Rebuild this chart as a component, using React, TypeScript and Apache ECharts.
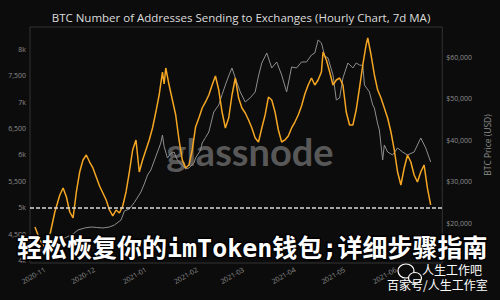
import { useEffect, useRef } from 'react';
import * as echarts from 'echarts';

const TITLE = 'BTC Number of Addresses Sending to Exchanges (Hourly Chart, 7d MA)';
const OVERLAY = '轻松恢复你的imToken钱包;详细步骤指南';
const WATERMARK = 'glassnode';
const SOURCE_1 = '人生工作吧';
const SOURCE_2 = '百家号/人生工作室';
const PRICE_AXIS_NAME = 'BTC Price (USD)';

const monthTicks = ['2020-11-01', '2020-12-01', '2021-01-01', '2021-02-01', '2021-03-01', '2021-04-01', '2021-05-01', '2021-06-01'];
const leftTicks = [4000, 4500, 5000, 5500, 6000, 6500, 7000, 7500, 8000];
const rightTicks = [20000, 30000, 40000, 50000, 60000];
const thresholdValue = 5000;

const addrDates = [
  '2020-10-26', '2020-10-29', '2020-11-01', '2020-11-04', '2020-11-07', '2020-11-10', '2020-11-12', '2020-11-14',
  '2020-11-16', '2020-11-18', '2020-11-20', '2020-11-22', '2020-11-24', '2020-11-26', '2020-11-28', '2020-11-30',
  '2020-12-02', '2020-12-04', '2020-12-06', '2020-12-08', '2020-12-10', '2020-12-12', '2020-12-14', '2020-12-16',
  '2020-12-18', '2020-12-20', '2020-12-22', '2020-12-24', '2020-12-26', '2020-12-28', '2020-12-30', '2021-01-01',
  '2021-01-03', '2021-01-05', '2021-01-07', '2021-01-09', '2021-01-11', '2021-01-12', '2021-01-13', '2021-01-15',
  '2021-01-17', '2021-01-19', '2021-01-21', '2021-01-23', '2021-01-25', '2021-01-27', '2021-01-29', '2021-01-31',
  '2021-02-02', '2021-02-04', '2021-02-06', '2021-02-08', '2021-02-10', '2021-02-12', '2021-02-14', '2021-02-16',
  '2021-02-18', '2021-02-20', '2021-02-22', '2021-02-24', '2021-02-26', '2021-02-28', '2021-03-02', '2021-03-04',
  '2021-03-06', '2021-03-08', '2021-03-10', '2021-03-12', '2021-03-14', '2021-03-16', '2021-03-18', '2021-03-20',
  '2021-03-22', '2021-03-24', '2021-03-26', '2021-03-28', '2021-03-30', '2021-04-01', '2021-04-03', '2021-04-05',
  '2021-04-07', '2021-04-09', '2021-04-11', '2021-04-13', '2021-04-15', '2021-04-17', '2021-04-18', '2021-04-20',
  '2021-04-22', '2021-04-24', '2021-04-26', '2021-04-28', '2021-04-30', '2021-05-02', '2021-05-04', '2021-05-06',
  '2021-05-08', '2021-05-10', '2021-05-12', '2021-05-14', '2021-05-15', '2021-05-17', '2021-05-19', '2021-05-21',
  '2021-05-23', '2021-05-25', '2021-05-27', '2021-05-29', '2021-05-31', '2021-06-02', '2021-06-04', '2021-06-06',
  '2021-06-08', '2021-06-10', '2021-06-12', '2021-06-14', '2021-06-16', '2021-06-18', '2021-06-20', '2021-06-22',
];
const addrValues = [
  4638, 4392, 4259, 4486, 4921, 5243, 5376, 5205,
  4921, 4808, 5300, 5678, 5905, 6000, 5867, 5754,
  5583, 5413, 5281, 5148, 4959, 4846, 4959, 4902,
  5035, 5300, 5678, 6095, 6284, 5678, 5905, 6095,
  6284, 6511, 6813, 7135, 7570, 7343, 7646, 7324,
  7040, 6757, 6284, 5905, 5754, 5811, 6095, 6530,
  6700, 6889, 7003, 7135, 7324, 7494, 7229, 6813,
  6511, 6700, 7135, 7457, 7078, 6889, 6795, 6662,
  6511, 6322, 6246, 6511, 6757, 7097, 7040, 6813,
  6473, 6246, 6284, 6359, 6511, 6624, 6757, 6927,
  7154, 7324, 7457, 7324, 7419, 7570, 7949, 7797,
  7570, 7324, 7419, 7457, 7324, 6813, 6567, 6567,
  6851, 7268, 7703, 8083, 8214, 7892, 7514, 7229,
  7078, 6889, 6700, 6435, 6095, 5678, 5432, 5754,
  6000, 5867, 5621, 5489, 5678, 5811, 5376, 5054,
];

const priceDates = [
  '2020-10-26', '2020-11-01', '2020-11-07', '2020-11-13', '2020-11-18', '2020-11-21', '2020-11-25', '2020-11-29',
  '2020-12-02', '2020-12-06', '2020-12-10', '2020-12-13', '2020-12-17', '2020-12-19', '2020-12-22', '2020-12-25',
  '2020-12-29', '2020-12-31', '2021-01-02', '2021-01-04', '2021-01-06', '2021-01-08', '2021-01-10', '2021-01-11',
  '2021-01-12', '2021-01-14', '2021-01-16', '2021-01-18', '2021-01-20', '2021-01-23', '2021-01-25', '2021-01-27',
  '2021-01-30', '2021-01-31', '2021-02-03', '2021-02-04', '2021-02-06', '2021-02-08', '2021-02-11', '2021-02-14',
  '2021-02-16', '2021-02-18', '2021-02-20', '2021-02-22', '2021-02-24', '2021-02-27', '2021-03-02', '2021-03-05',
  '2021-03-08', '2021-03-10', '2021-03-12', '2021-03-15', '2021-03-18', '2021-03-21', '2021-03-24', '2021-03-27',
  '2021-03-30', '2021-04-02', '2021-04-05', '2021-04-08', '2021-04-11', '2021-04-13', '2021-04-15', '2021-04-17',
  '2021-04-19', '2021-04-21', '2021-04-24', '2021-04-26', '2021-04-28', '2021-04-30', '2021-05-03', '2021-05-06',
  '2021-05-08', '2021-05-10', '2021-05-12', '2021-05-13', '2021-05-16', '2021-05-18', '2021-05-19', '2021-05-21',
  '2021-05-22', '2021-05-24', '2021-05-25', '2021-05-27', '2021-05-30', '2021-06-02', '2021-06-05', '2021-06-08',
  '2021-06-12', '2021-06-16', '2021-06-19', '2021-06-22',
];
const priceValues = [
  13080, 13800, 15500, 16460, 17420, 18390, 18870, 19110,
  19000, 18870, 19110, 19590, 20800, 22960, 23450, 25010,
  27540, 29470, 31640, 32850, 35010, 37180, 39350, 41280,
  38500, 35740, 36820, 37180, 35260, 34050, 33090, 33330,
  34530, 35740, 37590, 39350, 40680, 42000, 46820, 48510,
  51020, 53330, 55500, 57430, 55020, 51640, 49230, 50250,
  51640, 55500, 58630, 61040, 57430, 58870, 55740, 51640,
  57670, 57430, 58870, 58870, 60560, 61040, 64180, 63460,
  60320, 59840, 55740, 49720, 50200, 55020, 58630, 57430,
  58630, 58150, 58030, 53330, 51640, 48510, 47790, 43930,
  42490, 35260, 38870, 37180, 36460, 38150, 37180, 36460,
  37180, 40560, 38150, 34770,
];

const toTime = (s: string) => {
  const [y, m, d] = s.split('-').map(Number);
  return new Date(y, m - 1, d).getTime();
};
const fmtMonth = (v: number) => {
  const d = new Date(v);
  return `${d.getFullYear()}-${String(d.getMonth() + 1).padStart(2, '0')}`;
};
const fmtLeft = (v: number) => (v % 1000 === 0 ? `${v / 1000}k` : v.toLocaleString('en-US'));
const fmtRight = (v: number) => `$${v.toLocaleString('en-US')}`;

const LABEL_COLOR = '#8c8c8c';
const FONT = '"Open Sans", "DejaVu Sans", sans-serif';

export default function App() {
  const ref = useRef<HTMLDivElement>(null);

  useEffect(() => {
    if (!ref.current) return;
    const chart = echarts.init(ref.current, undefined, { renderer: 'svg' });

    const addrData = addrDates.map((d, i) => [toTime(d), addrValues[i]]);
    const priceData = priceDates.map((d, i) => [toTime(d), priceValues[i]]);

    chart.setOption({
      animation: false,
      backgroundColor: '#0c0c0c',
      textStyle: { fontFamily: FONT },
      grid: {
        left: 30,
        right: 48,
        top: 27,
        bottom: 37,
        show: true,
        borderColor: '#333333',
        borderWidth: 1,
        backgroundColor: 'transparent',
      },
      xAxis: {
        type: 'value',
        min: toTime('2020-10-23'),
        max: toTime('2021-06-29'),
        axisLine: { show: false },
        axisTick: { show: false },
        splitLine: { show: false },
        axisLabel: {
          customValues: monthTicks.map(toTime),
          formatter: (v: number) => fmtMonth(v),
          rotate: 30,
          fontSize: 7,
          color: LABEL_COLOR,
          margin: 6,
          fontFamily: FONT,
        },
      },
      yAxis: [
        {
          type: 'value',
          position: 'left',
          min: 3956,
          max: 8422,
          axisLine: { show: false },
          axisTick: { show: false },
          splitLine: { show: false },
          axisLabel: {
            customValues: leftTicks,
            formatter: (v: number) => fmtLeft(v),
            fontSize: 7,
            color: LABEL_COLOR,
            margin: 4,
            fontFamily: FONT,
          },
        },
        {
          type: 'value',
          position: 'right',
          min: 10432,
          max: 67302,
          name: PRICE_AXIS_NAME,
          nameLocation: 'middle',
          nameRotate: 90,
          nameGap: 33,
          nameTextStyle: { color: LABEL_COLOR, fontSize: 8.5, fontFamily: FONT },
          axisLine: { show: false },
          axisTick: { show: false },
          splitLine: { show: false },
          axisLabel: {
            customValues: rightTicks,
            formatter: (v: number) => fmtRight(v),
            fontSize: 7,
            color: LABEL_COLOR,
            margin: 4,
            fontFamily: FONT,
          },
        },
      ],
      series: [
        {
          name: 'BTC Price',
          type: 'line',
          yAxisIndex: 1,
          data: priceData,
          showSymbol: false,
          lineStyle: { color: '#8e8e8e', width: 1 },
          itemStyle: { color: '#8e8e8e' },
          z: 2,
        },
        {
          name: 'Addresses Sending to Exchanges',
          type: 'line',
          yAxisIndex: 0,
          data: addrData,
          showSymbol: false,
          lineStyle: { color: '#f5a623', width: 1.5 },
          itemStyle: { color: '#f5a623' },
          z: 3,
          markLine: {
            silent: true,
            symbol: 'none',
            label: { show: false },
            lineStyle: { color: '#d9d9d9', type: [4, 2], width: 1.5 },
            data: [{ yAxis: thresholdValue }],
          },
        },
      ],
      graphic: [
        {
          type: 'text',
          x: 241,
          y: 17,
          z: 10,
          style: {
            text: TITLE,
            textAlign: 'center',
            textVerticalAlign: 'middle',
            fontSize: 11.5,
            fontFamily: FONT,
            fill: '#dcdcdc',
          },
        },
        {
          type: 'text',
          x: 250,
          y: 151,
          z: 1,
          style: {
            text: WATERMARK,
            textAlign: 'center',
            textVerticalAlign: 'middle',
            fontSize: 38,
            fontFamily: 'Lato, "Noto Sans", sans-serif',
            fontWeight: 'bold',
            fill: 'rgba(140,140,140,0.6)',
          },
        },
        {
          type: 'text',
          x: 17,
          y: 248,
          z: 100,
          style: {
            text: OVERLAY,
            textAlign: 'left',
            textVerticalAlign: 'middle',
            fontSize: 25,
            fontFamily: '"DejaVu Sans Mono", "Noto Sans CJK SC", monospace',
            fontWeight: 'bold',
            fill: '#ffffff',
            stroke: '#000000',
            lineWidth: 3,
          },
        },
        {
          type: 'ellipse',
          z: 100,
          shape: { cx: 406, cy: 271, rx: 8, ry: 7 },
          style: { fill: 'rgba(0,0,0,0)', stroke: '#ffffff', lineWidth: 1.2 },
        },
        {
          type: 'ellipse',
          z: 101,
          shape: { cx: 415, cy: 278, rx: 6.5, ry: 5.5 },
          style: { fill: '#0c0c0c', stroke: '#ffffff', lineWidth: 1.2 },
        },
        {
          type: 'text',
          x: 422,
          y: 269,
          z: 102,
          style: {
            text: SOURCE_1,
            textAlign: 'left',
            textVerticalAlign: 'middle',
            fontSize: 12,
            fontFamily: '"Noto Sans CJK SC", sans-serif',
            fill: '#ffffff',
          },
        },
        {
          type: 'text',
          x: 387,
          y: 284,
          z: 102,
          style: {
            text: SOURCE_2,
            textAlign: 'left',
            textVerticalAlign: 'middle',
            fontSize: 12,
            fontFamily: '"Noto Sans CJK SC", sans-serif',
            fill: '#ffffff',
          },
        },
      ],
    });

    return () => chart.dispose();
  }, []);

  return <div ref={ref} style={{ width: 500, height: 300, position: 'fixed', left: 0, top: 0 }} />;
}
